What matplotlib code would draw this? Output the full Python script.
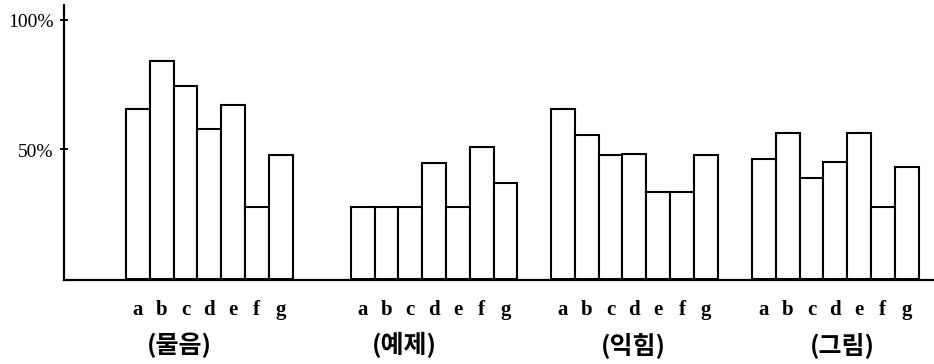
import matplotlib
matplotlib.use("Agg")
from matplotlib import pyplot as plt

# data (percent of correct answers)
groups = ["(물음)", "(예제)", "(익힘)", "(그림)"]
items = ["a", "b", "c", "d", "e", "f", "g"]
values = [
    [65.8, 84.2, 74.5, 57.9, 67.3, 27.9, 47.8],
    [27.7, 27.7, 27.7, 44.9, 27.9, 51.0, 36.9],
    [65.8, 55.6, 48.0, 48.1, 33.7, 33.7, 47.9],
    [46.2, 56.3, 38.9, 45.0, 56.3, 27.7, 43.4],
]
yticks = [50, 100]
ytick_labels = ["50%", "100%"]

# layout (in bar-width units)
group_start = [0, 9.45, 17.86, 26.3]
group_label_x = [2.23, 11.68, 21.3, 30.1]
axis_x = -2.6

fig = plt.figure(figsize=(9.34, 3.64), dpi=100)
ax = fig.add_axes([0, 0, 1, 1])
ax.set_xlim(-5.29, 33.95)
ax.set_ylim(-32.8, 107.7)
ax.axis("off")

for g, vals in enumerate(values):
    xs = [group_start[g] + i for i in range(len(items))]
    ax.bar(xs, vals, width=1, align="edge", color="white",
           edgecolor="black", linewidth=1.5, zorder=2)
    for x, lab in zip(xs, items):
        ax.text(x + 0.5, -12, lab, ha="center", va="center",
                fontsize=15, fontweight="bold", family="Liberation Serif")
    ax.text(group_label_x[g], -25.5, groups[g], ha="center", va="center",
            fontsize=18, fontweight="bold", family=["Noto Sans CJK KR", "DejaVu Sans"])

# axes drawn by hand
ax.plot([axis_x, axis_x], [-0.5, 105.8], color="black", linewidth=1.6, zorder=3)
ax.plot([axis_x, 34], [-0.5, -0.5], color="black", linewidth=1.6, zorder=3)
for t, lab in zip(yticks, ytick_labels):
    ax.plot([axis_x - 0.12, axis_x + 0.12], [t, t], color="black", linewidth=1.4)
    ax.text(axis_x - 0.45, t - 1, lab, ha="right", va="center",
            fontsize=14, family="Liberation Serif")

plt.savefig("out.png", dpi=100)
